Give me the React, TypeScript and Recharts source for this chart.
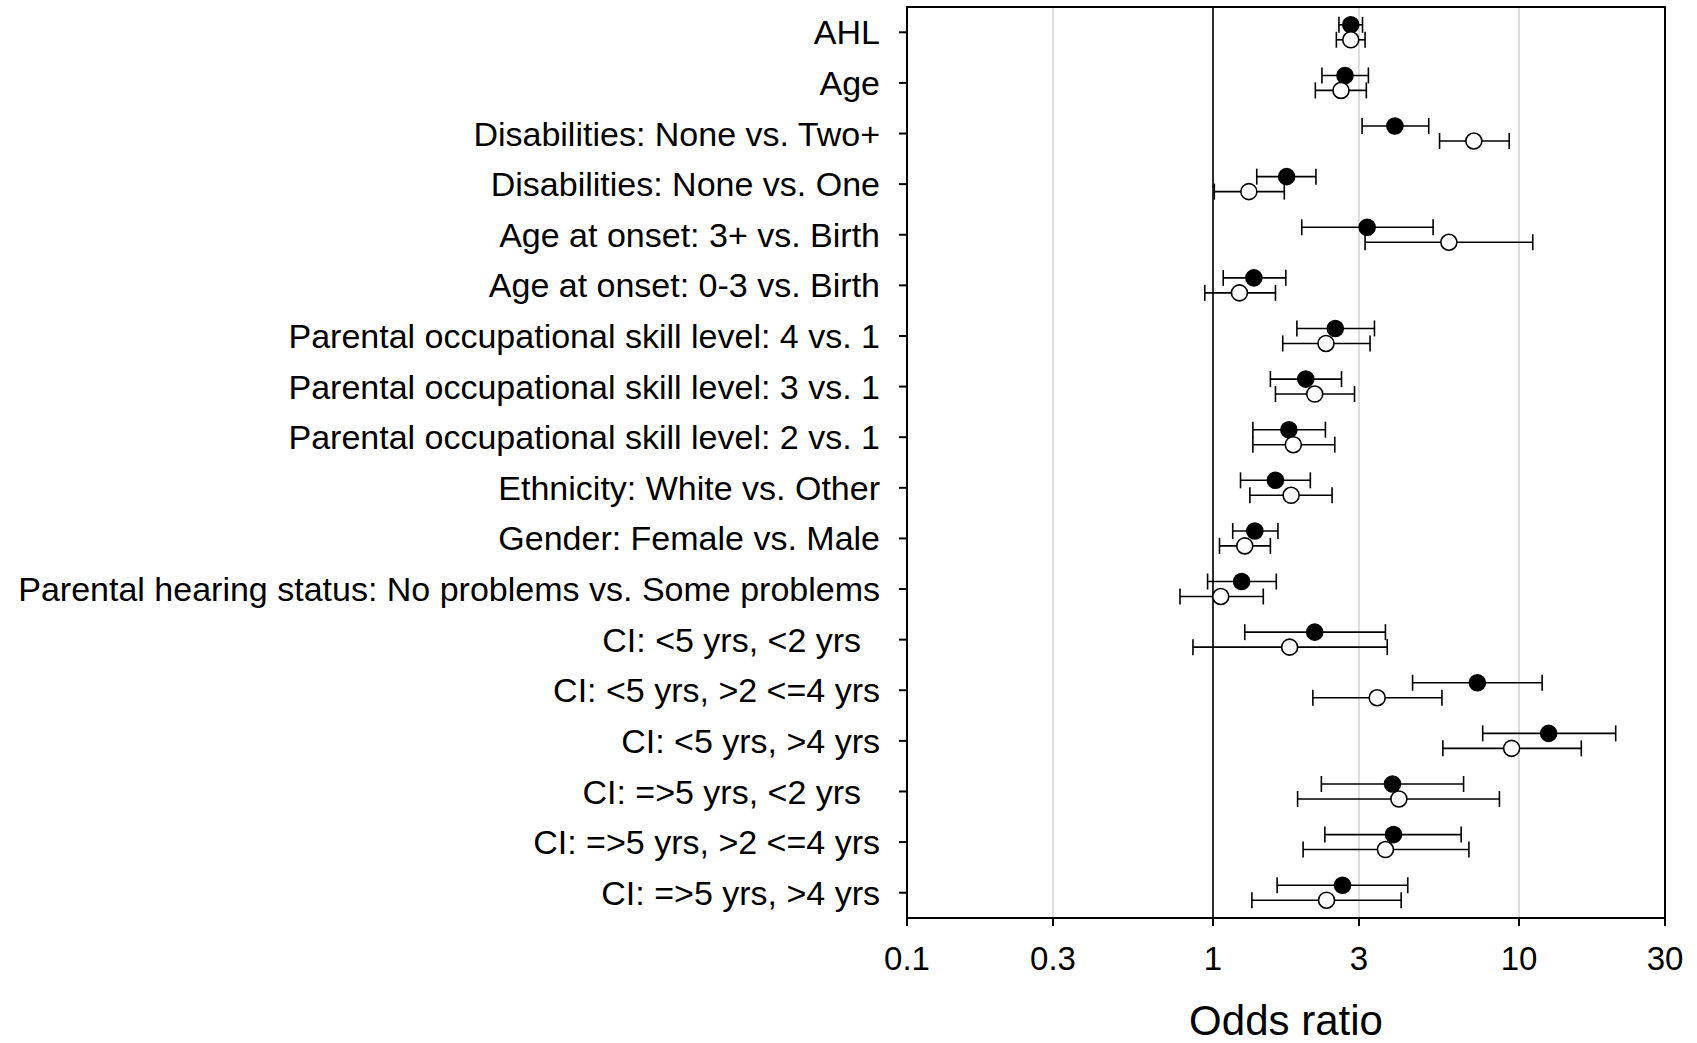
import {
  ScatterChart,
  Scatter,
  XAxis,
  YAxis,
  CartesianGrid,
  ReferenceLine,
  ReferenceArea,
  ErrorBar,
} from "recharts";

const FONT = '"Liberation Sans", Arial, sans-serif';

const labels = [
  "AHL",
  "Age",
  "Disabilities: None vs. Two+",
  "Disabilities: None vs. One",
  "Age at onset: 3+ vs. Birth",
  "Age at onset: 0-3 vs. Birth",
  "Parental occupational skill level: 4 vs. 1",
  "Parental occupational skill level: 3 vs. 1",
  "Parental occupational skill level: 2 vs. 1",
  "Ethnicity: White vs. Other",
  "Gender: Female vs. Male",
  "Parental hearing status: No problems vs. Some problems",
  "CI: <5 yrs, <2 yrs  ",
  "CI: <5 yrs, >2 <=4 yrs",
  "CI: <5 yrs, >4 yrs",
  "CI: =>5 yrs, <2 yrs  ",
  "CI: =>5 yrs, >2 <=4 yrs",
  "CI: =>5 yrs, >4 yrs",
];

// filled markers
const filledOR = [2.82, 2.7, 3.93, 1.74, 3.19, 1.36, 2.51, 2.01, 1.77, 1.6, 1.37, 1.24, 2.15, 7.31, 12.5, 3.86, 3.89, 2.65];
const filledLow = [2.58, 2.27, 3.07, 1.39, 1.95, 1.08, 1.88, 1.54, 1.35, 1.23, 1.16, 0.96, 1.27, 4.49, 7.61, 2.26, 2.32, 1.62];
const filledHigh = [3.08, 3.22, 5.07, 2.17, 5.24, 1.73, 3.37, 2.63, 2.33, 2.08, 1.63, 1.61, 3.66, 11.9, 20.7, 6.59, 6.47, 4.33];

// open markers
const openOR = [2.82, 2.62, 7.12, 1.31, 5.9, 1.22, 2.34, 2.15, 1.83, 1.8, 1.27, 1.06, 1.78, 3.44, 9.46, 4.05, 3.66, 2.35];
const openLow = [2.53, 2.16, 5.5, 1.01, 3.14, 0.94, 1.69, 1.6, 1.35, 1.32, 1.05, 0.78, 0.86, 2.12, 5.64, 1.89, 1.97, 1.34];
const openHigh = [3.14, 3.17, 9.29, 1.71, 11.09, 1.6, 3.26, 2.9, 2.5, 2.45, 1.54, 1.46, 3.71, 5.6, 15.98, 8.63, 6.86, 4.12];

const xTicks = [0.1, 0.3, 1, 3, 10, 30];

const ROW_SHIFT = 0.148;
const yTicks = labels.map((_, i) => i + 0.5);

const filledData = filledOR.map((v, i) => ({
  or: v,
  row: i + 0.5 - ROW_SHIFT,
  err: [v - filledLow[i], filledHigh[i] - v],
}));
const openData = openOR.map((v, i) => ({
  or: v,
  row: i + 0.5 + ROW_SHIFT,
  err: [v - openLow[i], openHigh[i] - v],
}));

function RowTick(props: any) {
  const { x, y, payload } = props;
  const label = labels[Math.floor(payload.value)];
  return (
    <text
      x={x}
      y={y}
      dy="0.355em"
      textAnchor="end"
      fill="#000"
      fontSize={34}
      fontFamily={FONT}
      style={{ whiteSpace: "pre" }}
    >
      {label}
    </text>
  );
}

const dot = (fill: string) => (p: any) =>
  <circle cx={p.cx} cy={p.cy} r={8} fill={fill} stroke="#000" strokeWidth={1.6} />;

export default function App() {
  return (
    <div style={{ position: "absolute", left: 0, top: 0, background: "#fff" }}>
      <ScatterChart
        width={1697}
        height={1043}
        margin={{ top: 7, right: 32, bottom: 0, left: 0 }}
      >
        <CartesianGrid horizontal={false} stroke="#d4d4d4" strokeWidth={1.5} />
        <XAxis
          type="number"
          dataKey="or"
          scale="log"
          domain={[0.1, 30]}
          ticks={xTicks}
          allowDataOverflow
          height={125}
          tickSize={8}
          tickMargin={21}
          tick={{ fontSize: 33, fontFamily: FONT, fill: "#000" }}
          axisLine={{ stroke: "#000", strokeWidth: 2 }}
          tickLine={{ stroke: "#000", strokeWidth: 2 }}
          label={{
            value: "Odds ratio",
            position: "insideBottom",
            offset: 8,
            fontSize: 42,
            fontFamily: FONT,
            fill: "#000",
          }}
        />
        <YAxis
          type="number"
          dataKey="row"
          domain={[0, labels.length]}
          reversed
          ticks={yTicks}
          width={907}
          tickSize={8}
          tickMargin={19}
          tick={<RowTick />}
          axisLine={{ stroke: "#000", strokeWidth: 2 }}
          tickLine={{ stroke: "#000", strokeWidth: 2 }}
        />
        <ReferenceLine x={1} stroke="#000" strokeWidth={1.6} />
        <ReferenceArea x1={0.1} x2={30} fill="none" stroke="#000" strokeWidth={2} />
        <Scatter data={filledData} shape={dot("#000")} isAnimationActive={false}>
          <ErrorBar dataKey="err" direction="x" width={8} stroke="#000" strokeWidth={1.6} isAnimationActive={false} />
        </Scatter>
        <Scatter data={openData} shape={dot("#fff")} isAnimationActive={false}>
          <ErrorBar dataKey="err" direction="x" width={8} stroke="#000" strokeWidth={1.6} isAnimationActive={false} />
        </Scatter>
      </ScatterChart>
    </div>
  );
}
